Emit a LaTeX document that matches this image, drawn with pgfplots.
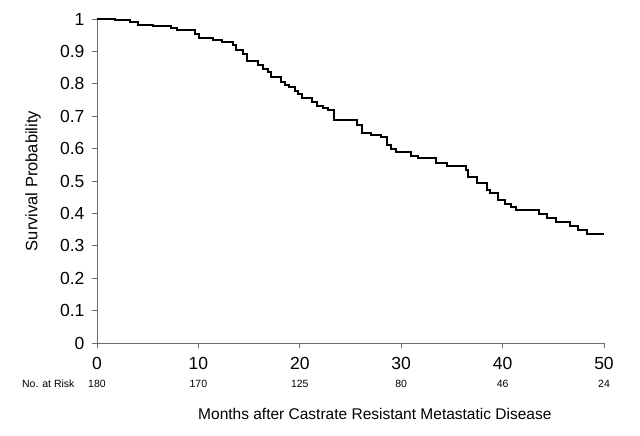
\documentclass[border=0pt]{standalone}
\usepackage{pgfplots}
\pgfplotsset{compat=1.18}
\usepackage{fontspec}
\setmainfont{Liberation Sans}
\begin{document}
\begin{tikzpicture}[x=1pt,y=1pt]
\path[use as bounding box] (0,0) rectangle (640,436);
\begin{axis}[
  at={(97pt,93pt)}, anchor=south west,
  scale only axis, width=507pt, height=324pt,
  xmin=0, xmax=50, ymin=0, ymax=1,
  axis x line*=bottom, axis y line*=left,
  axis line style={draw=gray!85!black, line width=0.8pt},
  xtick={0,10,20,30,40,50},
  ytick={0,0.1,0.2,0.3,0.4,0.5,0.6,0.7,0.8,0.9,1},
  tick align=outside, major tick length=5pt,
  tick style={draw=gray!85!black, line width=0.8pt},
  /pgf/number format/assume math mode=true,
  /pgf/number format/fixed,
  ticklabel style={font=\fontsize{17.5}{20}\selectfont},
  yticklabel style={xshift=-4pt},
  xticklabel style={yshift=-6pt},
  xlabel={Months after Castrate Resistant Metastatic Disease},
  ylabel={Survival Probability},
  xlabel style={at={(axis description cs:0.548,-0.219)}, anchor=center, font=\fontsize{15.5}{18}\selectfont},
  ylabel style={at={(axis description cs:-0.126,0.5)}, anchor=center, font=\fontsize{16.5}{19}\selectfont},
  clip=false,
]
\addplot[const plot, black, line width=2pt] coordinates {
(0,1.0) (1.8,0.996) (3.3,0.991) (4.0,0.983) (5.5,0.978) (7.3,0.971) (7.9,0.967)
(9.7,0.955) (10.1,0.941) (11.4,0.934) (12.3,0.929) (13.4,0.919) (13.7,0.903)
(14.35,0.893) (14.75,0.870) (15.9,0.857) (16.4,0.846) (16.9,0.836) (17.2,0.820)
(18.1,0.805) (18.5,0.797) (18.95,0.790) (19.5,0.777) (19.8,0.769) (20.2,0.756)
(21.2,0.743) (21.7,0.733) (22.3,0.725) (22.8,0.718) (23.4,0.688) (25.6,0.672)
(26.1,0.649) (27.0,0.642) (28.0,0.637) (28.6,0.611) (29.0,0.598) (29.5,0.588)
(31.0,0.577) (31.7,0.570) (33.4,0.557) (34.5,0.546) (36.4,0.534) (36.6,0.513)
(37.5,0.495) (38.5,0.472) (38.8,0.464) (39.5,0.441) (40.2,0.428) (40.8,0.421)
(41.3,0.410) (43.6,0.398) (44.4,0.385) (45.3,0.374) (46.6,0.361) (47.4,0.349)
(48.3,0.335) (50,0.335)
};
\begin{scope}[every node/.style={font=\fontsize{10.5}{12}\selectfont, anchor=center}]
\node at (axis cs:-4.8,0) [yshift=-41pt] {No. at Risk};
\node at (axis cs:0,0) [yshift=-41pt] {180};
\node at (axis cs:10,0) [yshift=-41pt] {170};
\node at (axis cs:20,0) [yshift=-41pt] {125};
\node at (axis cs:30,0) [yshift=-41pt] {80};
\node at (axis cs:40,0) [yshift=-41pt] {46};
\node at (axis cs:50,0) [yshift=-41pt] {24};
\end{scope}
\end{axis}
\end{tikzpicture}
\end{document}
